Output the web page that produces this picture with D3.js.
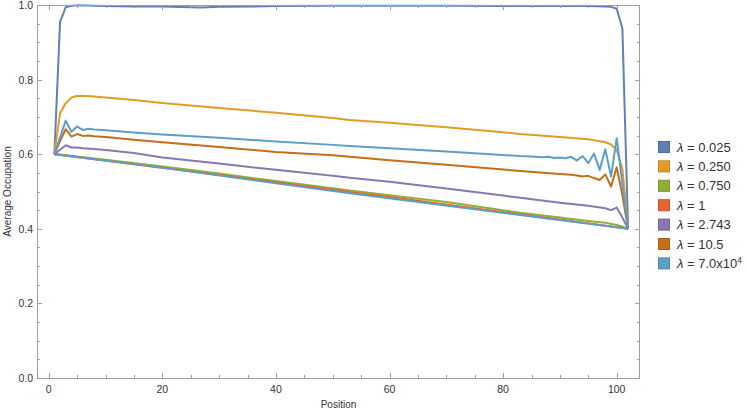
<!DOCTYPE html>
<html>
<head>
<meta charset="utf-8">
<script src="https://cdn.jsdelivr.net/npm/d3@7"></script>
<style>
  html, body { margin: 0; padding: 0; background: #fff; }
  svg { display: block; font-family: "Liberation Sans", Arial, sans-serif; }
</style>
</head>
<body>
<div id="chart"></div>
<script>
// values: [position, average occupation]
var lam0025 = [[1,0.6],[2,0.955],[3,0.994],[4,0.998],[5,0.999],[8,0.998],[10,0.997],[15,0.996],[20,0.996],[25,0.994],[27,0.993],[30,0.995],[40,0.997],[50,0.998],[60,0.998],[70,0.998],[80,0.997],[90,0.997],[95,0.997],[98,0.996],[99,0.995],[100,0.99],[101,0.937],[102,0.4]];
var lam0250 = [[1,0.6],[2,0.71],[3,0.737],[4,0.752],[5,0.756],[6,0.757],[8,0.755],[10,0.752],[15,0.745],[20,0.737],[30,0.724],[40,0.711],[50,0.697],[53,0.692],[60,0.684],[70,0.672],[80,0.659],[83,0.654],[90,0.646],[95,0.64],[97,0.635],[98,0.632],[99,0.626],[100,0.612],[101,0.56],[102,0.4]];
var lam0750 = [[1,0.6],[2,0.599],[5,0.594],[10,0.585],[19,0.569],[30,0.548],[40,0.528],[53,0.503],[60,0.49],[70,0.472],[83,0.443],[90,0.43],[95,0.421],[98,0.416],[100,0.41],[101,0.406],[102,0.4]];
var lam1 = [[1,0.6],[30,0.544],[60,0.485],[90,0.425],[102,0.4]];
var lam2743 = [[1,0.6],[2,0.612],[3,0.624],[4,0.618],[5,0.618],[6,0.616],[8,0.614],[10,0.611],[15,0.603],[20,0.591],[30,0.575],[40,0.558],[50,0.542],[53,0.537],[60,0.526],[70,0.508],[80,0.489],[83,0.483],[90,0.47],[95,0.462],[98,0.455],[99,0.45],[100,0.457],[101,0.43],[102,0.4]];
var lam105 = [[1,0.6],[2,0.635],[3,0.667],[4,0.647],[5,0.654],[6,0.649],[7,0.65],[8,0.648],[10,0.646],[15,0.639],[20,0.632],[30,0.619],[40,0.606],[50,0.597],[53,0.593],[60,0.584],[70,0.572],[80,0.559],[83,0.555],[90,0.547],[92,0.545],[93,0.543],[94,0.54],[95,0.542],[96,0.536],[97,0.531],[98,0.546],[99,0.513],[100,0.565],[101,0.49],[102,0.4]];
var lam7e4 = [[1,0.6],[2,0.645],[3,0.69],[4,0.66],[5,0.674],[6,0.665],[7,0.668],[8,0.666],[10,0.664],[15,0.658],[20,0.653],[30,0.644],[40,0.634],[50,0.625],[53,0.622],[60,0.616],[70,0.607],[80,0.598],[83,0.595],[85,0.594],[87,0.592],[88,0.593],[89,0.59],[90,0.591],[91,0.589],[92,0.593],[93,0.583],[94,0.595],[95,0.576],[96,0.602],[97,0.558],[98,0.613],[99,0.54],[100,0.643],[101,0.52],[102,0.4]];
var baseline = [[1,0.6],[19,0.566],[53,0.495],[83,0.437],[102,0.4]];

var labels = ['0.025', '0.250', '0.750', '1', '2.743', '10.5', '7.0x10'];
var colors = ['#5e81b5', '#e19c24', '#8fb032', '#eb6235', '#8778b3', '#c56e1a', '#5d9ec7'];
var series = [lam0025, lam0250, lam0750, lam1, lam2743, lam105, lam7e4];

var xTicks = [0, 20, 40, 60, 80, 100];
var yTicks = [0, 0.2, 0.4, 0.6, 0.8, 1.0];

var W = 747, H = 414;
var L = 37, R = 640, T = 5, B = 378;

var svg = d3.select('#chart').append('svg')
  .attr('width', W)
  .attr('height', H);

var x = d3.scaleLinear().domain([-2.06, 104.1]).range([L, R]);
var y = d3.scaleLinear().domain([0, 1]).range([B, T]);

var frameColor = '#a0a0a0';
var textColor = '#333';

// lines
var line = d3.line()
  .x(function (d) { return x(d[0]); })
  .y(function (d) { return y(d[1]); });

var plot = svg.append('g');

series.forEach(function (s, i) {
  plot.append('path')
    .datum(s)
    .attr('d', line)
    .attr('fill', 'none')
    .attr('stroke', colors[i])
    .attr('stroke-width', 2)
    .attr('stroke-linejoin', 'round');
  if (i === 3) {
    plot.append('path')
      .datum(baseline)
      .attr('d', line)
      .attr('fill', 'none')
      .attr('stroke', colors[6])
      .attr('stroke-width', 2);
  }
});

// frame
svg.append('rect')
  .attr('x', L + 0.5).attr('y', T + 0.5)
  .attr('width', R - L - 1).attr('height', B - T)
  .attr('fill', 'none')
  .attr('stroke', frameColor)
  .attr('stroke-width', 1);

// ticks, all four sides, pointing in
var xMinor = d3.range(0, 105, 5);
var yMinor = d3.range(0, 1.001, 0.05);

var ticks = svg.append('g').attr('stroke', frameColor).attr('stroke-width', 1);
xMinor.forEach(function (v) {
  var len = xTicks.indexOf(v) >= 0 ? 5 : 3;
  var px = Math.round(x(v)) + 0.5;
  ticks.append('line').attr('x1', px).attr('x2', px).attr('y1', B).attr('y2', B - len);
  ticks.append('line').attr('x1', px).attr('x2', px).attr('y1', T).attr('y2', T + len);
});
yMinor.forEach(function (v, i) {
  var len = i % 4 === 0 ? 5 : 3;
  var py = Math.round(y(v)) + 0.5;
  ticks.append('line').attr('x1', L).attr('x2', L + len).attr('y1', py).attr('y2', py);
  ticks.append('line').attr('x1', R).attr('x2', R - len).attr('y1', py).attr('y2', py);
});

// tick labels
svg.append('g').selectAll('text')
  .data(xTicks).enter().append('text')
  .attr('x', function (d) { return x(d); })
  .attr('y', B + 15)
  .attr('text-anchor', 'middle')
  .attr('font-size', 10.5)
  .attr('fill', textColor)
  .text(function (d) { return d; });

svg.append('g').selectAll('text')
  .data(yTicks).enter().append('text')
  .attr('x', L - 4)
  .attr('y', function (d) { return y(d) + 4; })
  .attr('text-anchor', 'end')
  .attr('font-size', 10.5)
  .attr('fill', textColor)
  .text(function (d) { return d.toFixed(1); });

// axis titles
svg.append('text')
  .attr('x', (L + R) / 2)
  .attr('y', 408)
  .attr('text-anchor', 'middle')
  .attr('font-size', 10)
  .attr('fill', textColor)
  .text('Position');

svg.append('text')
  .attr('transform', 'translate(11,' + ((T + B) / 2) + ') rotate(-90)')
  .attr('text-anchor', 'middle')
  .attr('font-size', 10)
  .attr('fill', textColor)
  .text('Average Occupation');

// legend
var legend = svg.append('g').attr('transform', 'translate(658,141)');
labels.forEach(function (lab, i) {
  var g = legend.append('g').attr('transform', 'translate(0,' + (i * 19.4) + ')');
  g.append('rect')
    .attr('x', 0.5).attr('y', 0.5)
    .attr('width', 11).attr('height', 11)
    .attr('fill', colors[i])
    .attr('stroke', d3.color(colors[i]).darker(0.5))
    .attr('stroke-width', 1);
  var t = g.append('text')
    .attr('x', 19)
    .attr('y', 10.5)
    .attr('font-size', 13)
    .attr('fill', textColor);
  t.append('tspan').attr('font-style', 'italic').text('λ');
  t.append('tspan').text(' = ' + lab);
  if (i === 6) {
    t.append('tspan').attr('dy', -5).attr('font-size', 8.5).text('4');
  }
});
</script>
</body>
</html>
